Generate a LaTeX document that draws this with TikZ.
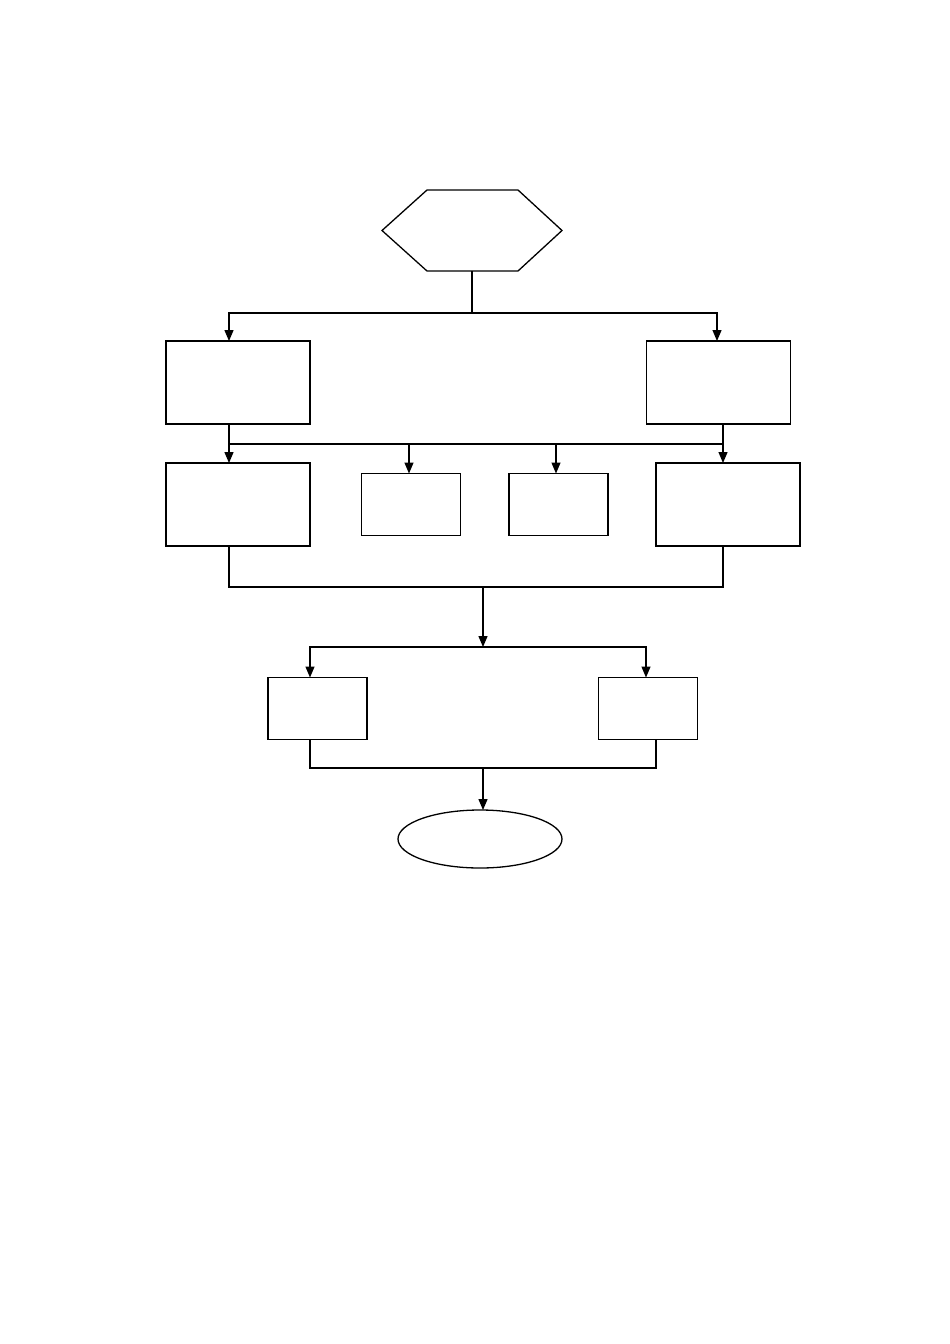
\documentclass[tikz,border=0pt]{standalone}
\usepackage{xcolor}
\usetikzlibrary{calc,arrows.meta,shapes.geometric}

\begin{document}
\begin{tikzpicture}[x=1pt,y=-1pt,line width=1.3pt,
        bigbox/.style={rectangle,draw,inner sep=0,outer sep=0,minimum width=144pt,minimum height=83pt},
        smallbox/.style={rectangle,draw,inner sep=0,outer sep=0,minimum width=99pt,minimum height=62pt},
        arr/.style={-{Stealth[length=11pt,width=9pt,inset=0pt]}}]
            \useasboundingbox (0,0) rectangle (950,1344);

            \node[inner sep=0,outer sep=0,minimum width=180pt,minimum height=81pt] (start) at (472,230.5) {};
            \draw (start.west) -- ([xshift=45pt]start.north west) -- ([xshift=-44pt]start.north east)
                -- (start.east) -- ([xshift=-44pt]start.south east) -- ([xshift=45pt]start.south west) -- cycle;

            \node[bigbox] (A1) at (238, 382.5) {};
            \node[bigbox] (A2) at (718.5, 382.5) {};

            \node[bigbox] (B1) at (238, 504.5) {};
            \node[smallbox] (B2) at (411, 504.5) {};
            \node[smallbox] (B3) at (558.5, 504.5) {};
            \node[bigbox] (B4) at (728, 504.5) {};

            \node[smallbox] (C1) at (317.5, 708.5) {};
            \node[smallbox] (C2) at (648, 708.5) {};

            \node[ellipse,draw,inner sep=0,outer sep=0,minimum width=164pt,minimum height=58pt] (finish) at (480, 839) {};

            \coordinate (top) at (472, 313);
            \coordinate (bus) at (229, 444);
            \coordinate (join1) at (483, 587);
            \coordinate (split2) at (483, 647);
            \coordinate (join2) at (483, 768);

            \draw (start.south) -- (top);
            \draw [arr](top) -| ([xshift=-9pt]A1.north);
            \draw [arr](top) -| ([xshift=-1.5pt]A2.north);

            \draw [arr]([xshift=-9pt]A1.south) -- ([xshift=-9pt]B1.north);
            \draw [arr]([xshift=4.5pt]A2.south) -- ([xshift=-5pt]B4.north);
            \draw (bus) -- ([xshift=-5pt]bus -| B4.north);
            \draw [arr]([xshift=-2pt]bus -| B2.north) -- ([xshift=-2pt]B2.north);
            \draw [arr]([xshift=-2.5pt]bus -| B3.north) -- ([xshift=-2.5pt]B3.north);

            \draw ([xshift=-9pt]B1.south) |- (join1) -| ([xshift=-5pt]B4.south);
            \draw [arr](join1) -- (split2);
            \draw [arr](split2) -| ([xshift=-7.5pt]C1.north);
            \draw [arr](split2) -| ([xshift=-2pt]C2.north);

            \draw ([xshift=-7.5pt]C1.south) |- (join2) -| ([xshift=8pt]C2.south);
            \draw [arr](join2) -- (join2 |- finish.north);
        \end{tikzpicture}
\end{document}
